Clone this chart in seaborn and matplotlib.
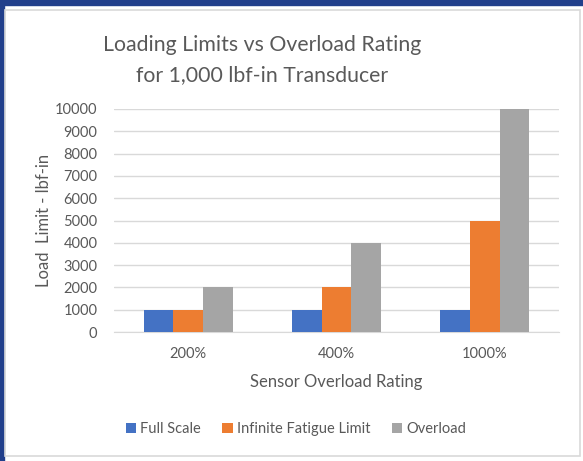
import pandas as pd
import seaborn as sns
import matplotlib.pyplot as plt
from matplotlib.patches import Rectangle

# chart data
ratings = ['200%', '400%', '1000%']
full_scale = [1000, 1000, 1000]
fatigue_limit = [1000, 2000, 5000]
overload = [2000, 4000, 10000]
series_names = ['Full Scale', 'Infinite Fatigue Limit', 'Overload']
colors = ['#4472C4', '#ED7D31', '#A5A5A5']

df = pd.DataFrame({
    'Rating': ratings * 3,
    'Series': [series_names[0]] * 3 + [series_names[1]] * 3 + [series_names[2]] * 3,
    'Load': full_scale + fatigue_limit + overload,
})

sns.set_style('white')
plt.rcParams['font.family'] = ['Lato', 'DejaVu Sans']
txt = '#595959'

fig = plt.figure(figsize=(5.83, 4.61), dpi=100)
fig.patch.set_facecolor('white')

# dark blue frame on top / left, light gray chart border
W, H = 583, 461
fig.add_artist(Rectangle((0, 1 - 5 / H), 1, 5 / H, transform=fig.transFigure,
                         color='#213F8B', zorder=0))
fig.add_artist(Rectangle((0, 0), 4 / W, 1, transform=fig.transFigure,
                         color='#213F8B', zorder=0))
fig.add_artist(Rectangle((5 / W, 5 / H), 575 / W, 446 / H, transform=fig.transFigure,
                         facecolor='none', edgecolor='#D9D9D9', lw=1.2, zorder=0))

ax = fig.add_axes([114 / W, 1 - 332 / H, 445 / W, 223 / H])
sns.barplot(data=df, x='Rating', y='Load', hue='Series', palette=colors,
            width=0.6, saturation=1, linewidth=0, ax=ax, zorder=3)

ax.set_ylim(0, 10000)
ax.set_yticks(range(0, 10001, 1000))
ax.yaxis.grid(True, color='#D9D9D9', lw=1, zorder=0)
ax.set_axisbelow(True)
for s in ['top', 'right', 'left']:
    ax.spines[s].set_visible(False)
ax.spines['bottom'].set_color('#D9D9D9')
ax.tick_params(axis='both', length=0, labelsize=10.5, labelcolor=txt)
ax.tick_params(axis='y', pad=12)
ax.tick_params(axis='x', pad=11)

ax.set_xlabel('Sensor Overload Rating', fontsize=12, color=txt, labelpad=9)
ax.set_ylabel('Load  Limit - lbf-in', fontsize=12, color=txt, labelpad=2)

fig.text(262 / W, 1 - 45 / H, 'Loading Limits vs Overload Rating', ha='center', va='center',
         fontsize=15.3, color=txt)
fig.text(262 / W, 1 - 75 / H, 'for 1,000 lbf-in Transducer', ha='center', va='center',
         fontsize=15.3, color=txt)

ax.legend(loc='center', bbox_to_anchor=(296 / W, 1 - 429 / H),
          bbox_transform=fig.transFigure, ncol=3, frameon=False,
          fontsize=10.5, labelcolor=txt, handlelength=0.7, handleheight=0.7,
          handletextpad=0.3, columnspacing=1.45)

plt.savefig('out.png', dpi=100)
